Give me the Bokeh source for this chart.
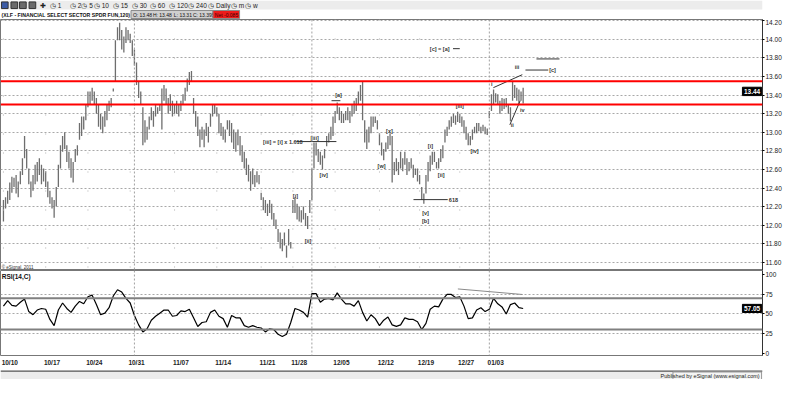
from bokeh.plotting import figure
from bokeh.layouts import column
from bokeh.models import Range1d, FixedTicker, Span, ColumnDataSource, NumeralTickFormatter
from bokeh.core.properties import value
from bokeh.embed import file_html
from bokeh.resources import INLINE

# ---------------- data (120-minute bars) ----------------
high = [12.27, 12.30, 12.37, 12.46, 12.52, 12.51, 12.54, 12.47, 12.58, 12.72,
        12.96, 12.82, 12.61, 12.47, 12.54, 12.65, 12.68, 12.72, 12.65, 12.61,
        12.58, 12.47, 12.37, 12.30, 12.27, 12.41, 12.65, 12.86, 12.96, 13.00,
        12.86, 12.79, 12.72, 12.68, 12.82, 12.86, 13.10, 13.17, 13.17, 13.30,
        13.44, 13.44, 13.48, 13.44, 13.37, 13.30, 13.20, 13.17, 13.23, 13.30,
        13.34, 13.37, 13.47, 13.99, 14.13, 14.18, 14.10, 14.03, 14.13, 14.10,
        14.06, 13.99, 13.89, 13.75, 13.55, 13.44, 13.27, 13.13, 13.06, 13.17,
        13.27, 13.23, 13.30, 13.27, 13.30, 13.47, 13.51, 13.47, 13.37, 13.41,
        13.34, 13.30, 13.34, 13.30, 13.34, 13.41, 13.48, 13.58, 13.65, 13.66,
        13.37, 13.23, 13.17, 13.03, 13.06, 13.03, 13.10, 13.06, 13.20, 13.30,
        13.30, 13.27, 13.20, 13.10, 13.06, 13.03, 13.13, 13.13, 13.10, 13.03,
        13.00, 13.03, 12.96, 12.86, 12.79, 12.72, 12.65, 12.58, 12.61, 12.54,
        12.58, 12.54, 12.35, 12.30, 12.27, 12.23, 12.27, 12.23, 12.13, 12.06,
        11.96, 11.92, 11.85, 11.92, 11.78, 11.96, 11.82, 12.27, 12.30, 12.23,
        12.20, 12.16, 12.20, 12.13, 12.10, 12.27, 12.61, 12.89, 12.89, 12.82,
        12.79, 12.75, 12.82, 12.96, 12.99, 13.06, 13.17, 13.23, 13.32, 13.27,
        13.23, 13.20, 13.23, 13.27, 13.23, 13.30, 13.34, 13.37, 13.44, 13.51,
        13.54, 13.13, 13.03, 13.06, 13.17, 13.17, 13.17, 13.13, 12.99, 12.89,
        12.82, 12.89, 12.96, 12.99, 12.96, 12.68, 12.72, 12.68, 12.79, 12.72,
        12.79, 12.72, 12.68, 12.72, 12.65, 12.61, 12.61, 12.54, 12.41, 12.34,
        12.54, 12.68, 12.75, 12.79, 12.79, 12.68, 12.72, 12.82, 12.86, 13.03,
        13.06, 13.13, 13.17, 13.20, 13.18, 13.22, 13.20, 13.17, 13.13, 13.06,
        12.99, 12.96, 13.03, 13.06, 13.10, 13.10, 13.06, 13.08, 13.06, 13.04,
        13.23, 13.41, 13.46, 13.42, 13.41, 13.34, 13.37, 13.36, 13.37, 13.30,
        13.27, 13.54, 13.51, 13.48, 13.46, 13.44, 13.48]
low = [12.04, 12.18, 12.23, 12.27, 12.35, 12.41, 12.34, 12.30, 12.44, 12.54,
       12.72, 12.61, 12.44, 12.30, 12.37, 12.44, 12.47, 12.54, 12.44, 12.47,
       12.41, 12.30, 12.23, 12.18, 12.08, 12.20, 12.41, 12.61, 12.79, 12.82,
       12.68, 12.61, 12.51, 12.46, 12.68, 12.75, 12.92, 12.96, 13.03, 13.13,
       13.27, 13.30, 13.34, 13.30, 13.20, 13.06, 13.03, 12.99, 13.06, 13.13,
       13.23, 13.27, 13.44, 13.55, 13.99, 13.99, 13.89, 13.86, 13.96, 13.99,
       13.96, 13.82, 13.72, 13.51, 13.37, 13.30, 12.86, 12.89, 12.92, 13.03,
       13.13, 13.06, 13.17, 13.20, 13.23, 13.03, 13.34, 13.30, 13.20, 13.23,
       13.17, 13.20, 13.20, 13.17, 13.23, 13.30, 13.34, 13.44, 13.51, 13.55,
       13.20, 13.06, 12.96, 12.84, 12.92, 12.84, 12.96, 12.89, 13.06, 13.17,
       13.20, 13.17, 12.99, 12.96, 12.92, 12.89, 13.03, 12.96, 12.89, 12.82,
       12.79, 12.86, 12.75, 12.68, 12.61, 12.54, 12.47, 12.37, 12.44, 12.41,
       12.46, 12.44, 12.27, 12.16, 12.13, 12.10, 12.13, 12.06, 11.99, 11.96,
       11.82, 11.75, 11.72, 11.78, 11.65, 11.78, 11.75, 12.13, 12.13, 12.06,
       12.04, 12.03, 12.06, 11.99, 11.96, 12.13, 12.27, 12.61, 12.75, 12.68,
       12.65, 12.60, 12.72, 12.85, 12.89, 12.92, 12.96, 13.10, 13.20, 13.13,
       13.10, 13.10, 13.13, 13.13, 13.10, 13.17, 13.20, 13.23, 13.30, 13.34,
       13.13, 12.89, 12.82, 12.89, 12.99, 13.06, 13.10, 13.03, 12.86, 12.75,
       12.70, 12.79, 12.82, 12.86, 12.46, 12.54, 12.58, 12.54, 12.61, 12.58,
       12.65, 12.54, 12.58, 12.61, 12.51, 12.54, 12.47, 12.44, 12.27, 12.23,
       12.34, 12.47, 12.58, 12.65, 12.68, 12.61, 12.61, 12.68, 12.72, 12.89,
       12.96, 13.03, 13.06, 13.10, 13.08, 13.11, 13.10, 13.06, 12.99, 12.92,
       12.86, 12.86, 12.92, 12.99, 12.99, 13.01, 12.99, 13.01, 12.98, 12.97,
       13.15, 13.23, 13.30, 13.32, 13.30, 13.20, 13.23, 13.25, 13.27, 13.20,
       13.12, 13.34, 13.37, 13.34, 13.30, 13.34, 13.31]
# RSI(14,C), one reading every second bar
rsi = [60, 67, 61, 60, 65, 69, 53, 49, 55, 57,
       56, 43, 35, 55, 64, 57, 52, 60, 66, 63,
       72, 74, 62, 49, 51, 58, 73, 81, 78, 70,
       64, 48, 36, 27, 31, 42, 47, 51, 55, 55,
       47, 48, 54, 53, 56, 45, 34, 39, 40, 52,
       55, 47, 44, 33, 48, 45, 45, 35, 33, 35,
       33, 32, 27, 31, 30, 24, 21, 24, 39, 57,
       55, 52, 46, 76, 76, 65, 69, 70, 68, 77,
       69, 63, 63, 60, 67, 52, 41, 49, 44, 35,
       42, 46, 36, 34, 36, 45, 43, 43, 40, 30,
       38, 56, 60, 59, 69, 75, 75, 71, 72, 60,
       44, 45, 55, 58, 53, 56, 70, 63, 59, 50,
       62, 64, 58, 57]
date_ticks = [0, 20, 40, 60, 81, 101, 122, 137, 157, 178, 197, 216, 230]
date_labels = ["10/10", "10/17", "10/24", "10/31", "11/07", "11/14", "11/21",
               "11/28", "12/05", "12/12", "12/19", "12/27", "01/03"]
month_starts = [62, 146, 230]
price_ticks = [11.6, 11.8, 12.0, 12.2, 12.4, 12.6, 12.8, 13.0, 13.2, 13.4, 13.6, 13.8, 14.0, 14.2]
rsi_ticks = [0, 25, 50, 75, 100]
rsi_grid = [25, 50, 75]
rsi_bands = [70, 30]
resist_levels = [13.55, 13.30]
last_price = 13.44
last_rsi = 57.05
intervals = ["1", "2", "5", "10", "15", "30", "60", "120", "240", "Daily", "m", "w"]
quote_cells = ["O: 13.48", "H: 13.48", "L: 13.31", "C: 13.395"]
net_text = "Net -0.085"

# Elliott-wave annotations
wave_text = ["[a]", "[iii]", "[iv]", "[i]", "[ii]", "[x]", "[w]", "[iii]", "[iv]",
             "[i]", "[ii]", "[v]", "[b]", "i", "iii", "ii", "iv", "[c]"]
wave_x = [158.6, 147.3, 151.6, 138.2, 144.2, 182.7, 179.0, 216.0, 223.0,
          202.1, 207.2, 199.8, 199.8, 231.2, 243.1, 240.9, 245.6, 259.9]
wave_y = [13.40, 12.94, 12.54, 12.31, 11.83, 13.01, 12.64, 13.28, 12.80,
          12.85, 12.54, 12.13, 12.05, 13.52, 13.70, 13.075, 13.24, 13.67]

FONT = "Liberation Sans"
W = 784
XR0, XR1 = -1.39, 359.3
xr = Range1d(XR0, XR1)

# ---------------- header ----------------
hd = figure(width=W, height=19, x_range=Range1d(0, 800), y_range=Range1d(20, 0),
            output_backend="svg", toolbar_location=None, x_axis_location=None,
            y_axis_location=None, min_border_left=0, min_border_right=0,
            min_border_top=0, min_border_bottom=0, outline_line_color=None)
hd.xgrid.grid_line_color = None
hd.ygrid.grid_line_color = None
hd.quad(left=[0], right=[800], top=[0], bottom=[9.5], fill_color="#ececec", line_color=None)
hd.quad(left=[1, 11, 20, 30], right=[8, 18, 27, 37], top=[1.5] * 4, bottom=[8.5] * 4,
        fill_color=["#3b5ba5", "#6b6b6b", "#6b6b6b", "#6b6b6b"], line_color="#333333")
hd.text(x=[41], y=[5.2], text=["✚"], text_font_size="7px", text_baseline="middle",
        text_color="#222222")
hd.text(x=[52, 73, 85, 98, 118, 138, 157, 177, 197, 218, 242, 257], y=[5.2] * 12,
        text=["◷ " + s for s in intervals], text_font=value(FONT), text_font_size="6.5px",
        text_baseline="middle", text_color="#222222")
hd.text(x=[1], y=[15], text=["(XLF - FINANCIAL SELECT SECTOR SPDR FUN,120)"],
        text_font=value(FONT), text_font_size="5.2px", text_font_style="bold",
        text_baseline="middle", text_color="#111111")
hd.quad(left=[137], right=[223], top=[10.5], bottom=[19], fill_color="#cfcfcf", line_color="#8a8a8a")
hd.text(x=[139, 160, 182, 202], y=[15] * 4, text=quote_cells, text_font=value(FONT),
        text_font_size="5px", text_baseline="middle", text_color="#111111")
hd.quad(left=[223], right=[251], top=[10.5], bottom=[19], fill_color="#ee1c1c", line_color="#8a8a8a")
hd.text(x=[225], y=[15], text=[net_text], text_font=value(FONT), text_font_size="5px",
        text_baseline="middle", text_color="#3a0000")


def style_right_axis(ax):
    ax.major_label_text_font = FONT
    ax.major_label_text_font_size = "6.5px"
    ax.major_label_text_color = "#222222"
    ax.major_tick_out = 2
    ax.major_tick_in = 0
    ax.minor_tick_out = 0
    ax.minor_tick_in = 0
    ax.major_label_standoff = 1
    ax.axis_line_color = "#333333"


def last_value_box(fig, y, half_h, txt):
    # boxed current value, set just inside the right edge of the frame
    fig.quad(left=[XR1 - 9.5], right=[XR1 - 0.4], bottom=[y - half_h], top=[y + half_h],
             fill_color="black", line_color="black")
    fig.text(x=[XR1 - 4.95], y=[y], text=[txt], text_font=value(FONT), text_font_size="6.5px",
             text_font_style="bold", text_color="white", text_align="center",
             text_baseline="middle")


# ---------------- price panel ----------------
p = figure(width=W, height=251, x_range=xr, y_range=Range1d(11.512, 14.214),
           output_backend="svg", toolbar_location=None, x_axis_location=None,
           y_axis_location="right", min_border_left=0, min_border_right=22,
           min_border_top=0, min_border_bottom=0)
p.outline_line_color = "#777777"
p.yaxis.ticker = FixedTicker(ticks=price_ticks)
p.yaxis.formatter = NumeralTickFormatter(format="0.00")
style_right_axis(p.yaxis[0])
p.ygrid.ticker = FixedTicker(ticks=price_ticks)
p.ygrid.grid_line_color = "#a8a8a8"
p.ygrid.grid_line_dash = "2 2"
p.xgrid.grid_line_color = None

for t in date_ticks:
    if t not in month_starts:
        p.add_layout(Span(location=t, dimension="height", line_color="#b0b0b0",
                          line_dash="1 18", line_width=1))
for t in month_starts:
    p.add_layout(Span(location=t, dimension="height", line_color="#a0a0a0",
                      line_dash="2 2", line_width=1))
for lv in resist_levels:
    p.add_layout(Span(location=lv, dimension="width", line_color="#ff0000", line_width=2))

src = ColumnDataSource(dict(x=list(range(len(high))), hi=high, lo=low))
p.segment(x0="x", y0="lo", x1="x", y1="hi", source=src, line_color="#6e6e6e", line_width=1.3)

# annotation lines
p.segment(x0=[155.3, 138.6, 212.8, 194.1, 231.9, 239.7, 247.1],
          y0=[13.34, 12.90, 13.90, 12.275, 13.48, 13.08, 13.67],
          x1=[159.5, 157.6, 216.0, 210.3, 245.6, 244.6, 257.9],
          y1=[13.34, 12.90, 13.90, 12.275, 13.62, 13.34, 13.67],
          line_color="#333333", line_width=1)
p.segment(x0=[252.3], y0=[13.79], x1=[263.2], y1=[13.79], line_color="#8a8a8a", line_width=1.6)

p.text(x=wave_x, y=wave_y, text=wave_text, text_font=value(FONT), text_font_size="5.5px",
       text_font_style="bold", text_align="center", text_baseline="middle", text_color="#333333")
p.text(x=[122.9], y=[12.90], text=["[iii] = [i] x 1.618"], text_font=value(FONT),
       text_font_size="5.5px", text_font_style="bold", text_baseline="middle", text_color="#333333")
p.text(x=[206.5, 213.0], y=[13.90, 12.27], text=["[c] = [a]", "618"], text_font=value(FONT),
       text_font_size="5.5px", text_font_style="bold", text_align="center",
       text_baseline="middle", text_color="#333333")
p.text(x=[-0.8], y=[11.545], text=["© eSignal, 2011"], text_font=value(FONT),
       text_font_size="4.5px", text_baseline="middle", text_color="#333333")
last_value_box(p, last_price, 0.045, "%.2f" % last_price)

# ---------------- RSI panel ----------------
r = figure(width=W, height=98, x_range=xr, y_range=Range1d(-3.2, 105.6),
           output_backend="svg", toolbar_location=None, x_axis_location="below",
           y_axis_location="right", min_border_left=0, min_border_right=22,
           min_border_top=0, min_border_bottom=13)
r.outline_line_color = "#777777"
r.yaxis.ticker = FixedTicker(ticks=rsi_ticks)
style_right_axis(r.yaxis[0])
r.ygrid.ticker = FixedTicker(ticks=rsi_grid)
r.ygrid.grid_line_color = "#a8a8a8"
r.ygrid.grid_line_dash = "2 2"
r.xgrid.grid_line_color = None
label_shift = 3
r.xaxis.ticker = FixedTicker(ticks=[t + label_shift for t in date_ticks])
r.xaxis.major_label_overrides = {t + label_shift: lab for t, lab in zip(date_ticks, date_labels)}
r.xaxis.major_label_text_font = FONT
r.xaxis.major_label_text_font_size = "6.5px"
r.xaxis.major_label_text_font_style = "bold"
r.xaxis.major_label_text_color = "#222222"
r.xaxis.major_tick_out = 0
r.xaxis.major_tick_in = 0
r.xaxis.minor_tick_out = 0
r.xaxis.minor_tick_in = 0
r.xaxis.axis_line_color = None
r.xaxis.major_label_standoff = 3

for t in month_starts:
    r.add_layout(Span(location=t, dimension="height", line_color="#a0a0a0",
                      line_dash="2 2", line_width=1))
for lv in rsi_bands:
    r.add_layout(Span(location=lv, dimension="width", line_color="#808080", line_width=2))

r.line(x=[2 * k for k in range(len(rsi))], y=rsi, line_color="black", line_width=1.2)
r.segment(x0=[215.1], y0=[82], x1=[245.7], y1=[74.9], line_color="#8a8a8a", line_width=1)
r.text(x=[-0.8], y=[98], text=["RSI(14,C)"], text_font=value(FONT), text_font_size="6.5px",
       text_font_style="bold", text_baseline="middle", text_color="#111111")
last_value_box(r, last_rsi, 5.2, "%.2f" % last_rsi)

# ---------------- footer ----------------
ft = figure(width=W, height=11, x_range=Range1d(0, 800), y_range=Range1d(396, 385),
            output_backend="svg", toolbar_location=None, x_axis_location=None,
            y_axis_location=None, min_border_left=0, min_border_right=0,
            min_border_top=0, min_border_bottom=0, outline_line_color=None)
ft.xgrid.grid_line_color = None
ft.ygrid.grid_line_color = None
ft.quad(left=[0], right=[800], top=[386.5], bottom=[396], fill_color="#ececec", line_color=None)
ft.segment(x0=[0], y0=[386.6], x1=[800], y1=[386.6], line_color="#555555", line_width=1.2)
ft.quad(left=[706], right=[799], top=[387.5], bottom=[395.5], fill_color="#f4f4f4", line_color="#9a9a9a")
ft.text(x=[797], y=[391.5], text=["Published by eSignal (www.esignal.com)"], text_font=value(FONT),
        text_font_size="5.5px", text_align="right", text_baseline="middle", text_color="#222222")

layout = column(hd, p, r, ft, spacing=0)
open("out.html", "w").write(file_html(layout, INLINE))
